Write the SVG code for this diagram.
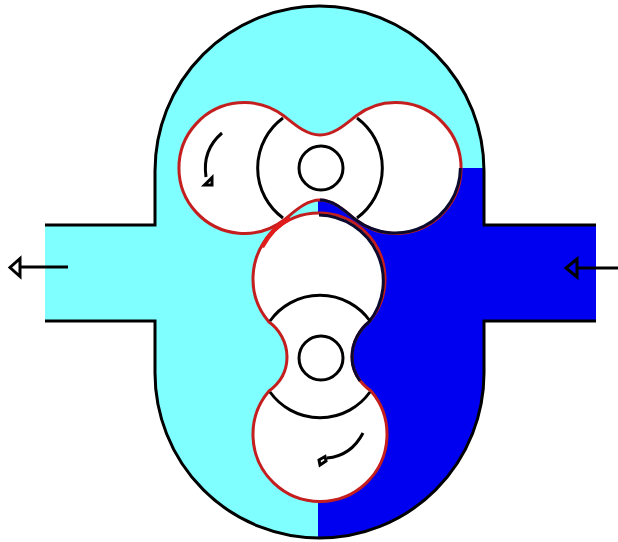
<svg xmlns="http://www.w3.org/2000/svg" width="618" height="542" viewBox="0 0 618 542">
<defs><style>
.k{fill:none;stroke:#000;stroke-width:3}
.r{fill:#fff;stroke:#c41e1e;stroke-width:3}
.d{fill:none;stroke:#0a0a30;stroke-width:3}
</style></defs>
<rect width="618" height="542" fill="#fff"/>
<g id="housing">
<path fill="#7fffff" d="M45,225H155V171A164.500,165 0 0 1 484,171V225H596V321H484V373A164.500,165 0 0 1 155,373V321H45Z"/>
<path fill="#0000f0" d="M484,168V225H596V321H484V373A164.500,165 0 0 1 318,538V200L460,168Z"/>
<path class="k" d="M45,225H155V171A164.500,165 0 0 1 484,171V225H596M596,321H484V373A164.500,165 0 0 1 155,373V321H45"/>
</g>
<g id="upper-rotor">
<path class="r" d="M284,116C294,124 306,135 320,135C334,135 346,124 356,116A65.400,65.400 0 1 1 356,220C346,212 334,200 320,200C306,200 294,212 284,220A65.400,65.400 0 1 1 284,116Z"/>
<path class="d" d="M460.400,168A65.400,65.400 0 0 1 356,220C346,212 334,200 320,200"/>
<path class="k" d="M283,118A62,62 0 0 0 283,218M357,118A62,62 0 0 1 357,218"/>
<circle class="k" cx="321" cy="168" r="22"/>
<path class="k" d="M222,133Q202,150 206,177M204.500,185L212,177.500V185Z"/>
</g>
<g id="lower-rotor">
<path class="r" d="M269,322C279,329 287,342 287,357C287,372 280,383 269,391A67,67 0 1 0 371,391C360,383 352,372 352,357C352,342 360,329 369,322A66,66 0 1 0 269,322Z"/>
<path class="d" d="M319,215A66,66 0 0 1 369,322C360,329 352,342 352,357C352,366 355,374 360,381"/>
<path fill="none" stroke="#e01c1c" stroke-width="4.500" d="M290,218Q272,228 262,247"/>
<path class="k" d="M270,321A61.500,61.500 0 0 1 370,321M270,392A61.500,61.500 0 0 0 370,392"/>
<circle class="k" cx="321" cy="358" r="22"/>
<path class="k" d="M363,433Q351,456 327,458M319,460L325,456.500L326,461L320,465Z"/>
</g>
<g id="connectors">
<path class="k" d="M68,267H20M20,258.500V276.500L10,267.500Z"/>
<path class="k" d="M618,268H577M577,259V277L566,268Z"/>
</g>
</svg>
